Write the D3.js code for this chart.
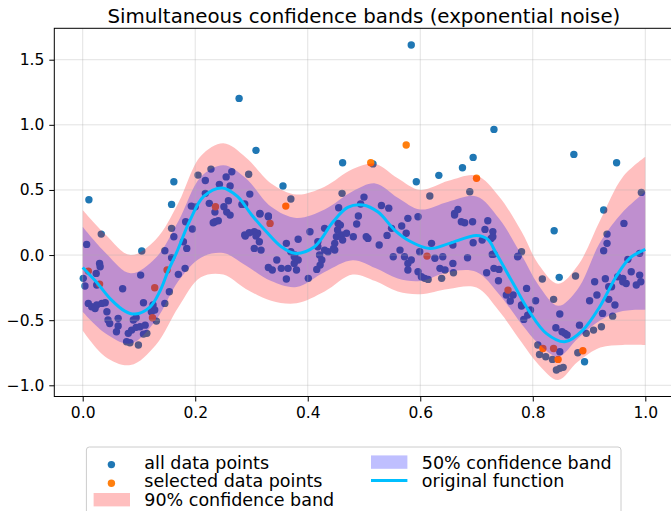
<!DOCTYPE html>
<html>
<head>
<meta charset="utf-8">
<script src="https://cdn.jsdelivr.net/npm/d3@7"></script>
<style>
  body { margin: 0; background: #fff; }
  text { font-family: "DejaVu Sans", sans-serif; fill: #000; }
</style>
</head>
<body>
<svg id="chart" width="671" height="511"></svg>
<script>
// ---- data ----
var curveX = [0, 0.025, 0.05, 0.075, 0.093, 0.12, 0.137, 0.152, 0.167, 0.19, 0.215, 0.248, 0.275, 0.3, 0.329, 0.353, 0.377, 0.412, 0.445, 0.471, 0.498, 0.525, 0.555, 0.58, 0.617, 0.652, 0.7, 0.72, 0.735, 0.765, 0.794, 0.824, 0.857, 0.889, 0.919, 0.948, 0.972, 1.0];
var curveY = [-0.095, -0.21, -0.34, -0.43, -0.453, -0.397, -0.28, -0.12, 0.02, 0.26, 0.45, 0.515, 0.45, 0.31, 0.167, 0.064, 0.013, 0.064, 0.255, 0.366, 0.384, 0.33, 0.19, 0.11, 0.05, 0.09, 0.15, 0.12, 0.013, -0.217, -0.435, -0.601, -0.666, -0.576, -0.397, -0.167, -0.025, 0.044];

var bandX   = [0, 0.04, 0.085, 0.13, 0.17, 0.21, 0.25, 0.29, 0.335, 0.38, 0.43, 0.48, 0.52, 0.56, 0.60, 0.65, 0.70, 0.74, 0.78, 0.81, 0.845, 0.88, 0.92, 0.96, 1.0];
var hi90    = [0.346, 0.16, 0.0, 0.12, 0.40, 0.76, 0.858, 0.75, 0.55, 0.465, 0.525, 0.66, 0.70, 0.59, 0.50, 0.57, 0.61, 0.45, 0.18, -0.07, -0.22, -0.08, 0.27, 0.60, 0.755];
var hi50    = [0.217, 0.02, -0.14, -0.02, 0.26, 0.60, 0.69, 0.59, 0.37, 0.285, 0.35, 0.49, 0.55, 0.44, 0.35, 0.41, 0.45, 0.28, 0.0, -0.23, -0.39, -0.26, 0.10, 0.33, 0.486];
var lo50    = [-0.435, -0.60, -0.68, -0.50, -0.20, -0.02, 0.015, -0.08, -0.20, -0.245, -0.13, -0.04, -0.10, -0.18, -0.20, -0.13, -0.13, -0.30, -0.53, -0.68, -0.78, -0.64, -0.50, -0.43, -0.42];
var lo90    = [-0.58, -0.78, -0.845, -0.69, -0.40, -0.17, -0.15, -0.26, -0.35, -0.37, -0.28, -0.15, -0.20, -0.28, -0.30, -0.26, -0.25, -0.43, -0.67, -0.84, -0.96, -0.82, -0.71, -0.69, -0.69];

var allPoints = [
  [0.011,0.425],[0.278,1.203],[0.308,0.804],[0.162,0.563],[0.158,0.389],[0.584,1.613],[0.462,0.709],[0.516,0.70],
  [0.356,0.53],[0.593,0.563],[0.633,0.612],[0.675,0.67],[0.694,0.75],[0.731,0.965],[0.873,0.773],[0.949,0.709],
  [0.993,0.481],[0.926,0.346],[0.838,0.187],[0.033,0.161],[0.007,0.082],[0.105,0.031],
  [0.205,0.614],[0.228,0.66],[0.218,0.573],[0.265,0.64],[0.255,0.60],[0.295,0.62],[0.243,0.543],[0.262,0.53],
  [0.218,0.474],[0.259,0.417],[0.297,0.468],[0.225,0.397],[0.251,0.371],[0.193,0.376],[0.2,0.37],[0.283,0.389],
  [0.235,0.33],[0.256,0.33],
  [0.37,0.43],[0.461,0.474],[0.5,0.445],[0.617,0.453],[0.455,0.363],[0.531,0.38],[0.544,0.36],[0.494,0.392],
  [0.667,0.35],[0.661,0.32],[0.315,0.32],[0.33,0.3],[0.688,0.486],
  [0.679,0.248],[0.693,0.256],[0.72,0.264],[0.715,0.197],[0.729,0.18],[0.729,0.141],[0.694,0.094],[0.71,0.115],
  [0.962,0.243],[0.932,0.161],[0.932,0.09],[0.926,0.033],[0.684,-0.021],[0.728,0.005],[0.773,-0.013],[0.78,0.025],
  [0.718,-0.136],[0.731,-0.102],[0.74,-0.11],[0.739,-0.197],[0.753,-0.307],[0.765,-0.307],[0.76,-0.353],[0.78,-0.392],
  [0.789,-0.256],[0.805,-0.351],[0.796,-0.422],[0.791,-0.461],[0.784,-0.494],[0.817,-0.184],[0.847,-0.171],[0.876,-0.161],
  [0.837,-0.34],[0.848,-0.453],[0.841,-0.558],[0.857,-0.601],[0.861,-0.614],[0.883,-0.538],[0.895,-0.601],[0.908,-0.576],
  [0.922,-0.551],[0.942,-0.469],[0.924,-0.448],[0.901,-0.351],[0.914,-0.307],[0.91,-0.205],[0.929,-0.182],[0.935,-0.34],
  [0.946,-0.384],[0.94,-0.243],[0.96,-0.179],[0.966,-0.218],[0.975,-0.128],[0.984,-0.23],[0.992,-0.205],[0.99,-0.154],
  [0.969,-0.033],[0.99,0.013],[0.809,-0.691],[0.812,-0.763],[0.823,-0.781],[0.835,-0.801],[0.848,-0.742],[0.842,-0.883],
  [0.848,-0.87],[0.854,-0.862],[0.88,-0.75],[0.892,-0.819],
  [0.726,0.128],[0.731,0.008],[0.774,-0.008],[0.78,-0.384],[0.852,-0.589],[0.935,-0.243],[0.951,-0.167],[0.96,-0.205],
  [0.33,0.294],[0.311,0.167],[0.317,0.038],[0.362,0.09],[0.383,0.121],[0.404,0.179],[0.43,0.205],[0.418,0.064],
  [0.43,0.038],[0.425,-0.038],[0.422,-0.077],[0.416,-0.11],[0.448,0.09],[0.451,0.141],[0.46,0.154],[0.469,0.167],
  [0.448,0.038],[0.481,0.141],[0.487,0.238],[0.49,0.3],[0.454,0.243],[0.507,0.128],[0.527,0.077],[0.541,0.151],
  [0.549,0.205],[0.567,0.223],[0.575,0.167],[0.578,0.282],[0.596,0.294],[0.552,-0.013],[0.564,0.038],[0.572,-0.013],
  [0.578,-0.064],[0.584,-0.038],[0.596,-0.128],[0.602,-0.167],[0.608,-0.179],[0.614,-0.187],[0.599,0.025],[0.62,0.09],
  [0.626,-0.025],[0.64,-0.013],[0.658,-0.064],[0.635,-0.102],[0.644,-0.115],[0.659,-0.136],[0.638,-0.179],[0.658,0.077],
  [0.673,0.256],[0.661,0.307],[0.33,-0.095],[0.337,-0.115],[0.353,-0.102],[0.365,-0.102],[0.38,-0.115],[0.362,-0.184],
  [0.345,-0.038],[0.377,0],[0.383,-0.038],[0.376,-0.064],[0.401,-0.179],
  [0.462,0.115],[0.504,0.141],[0.578,-0.115],
  [0.288,0.392],[0.315,0.315],[0.305,0.179],[0.308,0.146],[0.289,0.146],[0.305,0.051],[0.37,0.025],[0.376,-0.013],
  [0.421,0],[0.418,0.102],[0.436,0.025],[0.446,0.051],[0.453,0.192],[0.458,0.23],
  [0.001,-0.179],[0.004,-0.238],[0.03,-0.064],[0.031,-0.09],[0.024,-0.141],[0.025,-0.23],[0.071,-0.259],[0.103,-0.154],
  [0.01,-0.371],[0.016,-0.397],[0.025,-0.384],[0.034,-0.371],[0.04,-0.366],[0.022,-0.41],[0.043,-0.435],[0.045,-0.499],
  [0.048,-0.525],[0.063,-0.486],[0.063,-0.545],[0.06,-0.589],[0.078,-0.666],[0.084,-0.673],[0.081,-0.601],[0.087,-0.576],
  [0.095,-0.555],[0.09,-0.499],[0.099,-0.691],[0.095,-0.481],[0.102,-0.551],[0.111,-0.538],[0.114,-0.601],[0.108,-0.607],
  [0.108,-0.366],[0.125,-0.384],[0.128,-0.422],[0.122,-0.435],[0.131,-0.507],[0.146,-0.371],[0.154,-0.282],[0.17,-0.148],
  [0.182,-0.102],[0.158,-0.021],[0.146,0.033],[0.158,0.205],[0.162,0.141],[0.179,0.102],[0.185,0.051],[0.183,0.256],
  [0.195,0.2],[0.235,0.256],[0.241,0.264],[0.232,0.248],[0.262,0.307],[0.288,0.154],[0.296,0.171],[0.314,0.102]
];

var selectedPoints = [
  [0.236,0.371],[0.361,0.376],[0.512,0.709],[0.575,0.845],[0.70,0.59],[0.333,0.243],[0.612,-0.008],[0.756,-0.269],
  [0.818,-0.717],[0.837,-0.717],[0.845,-0.801],[0.889,-0.735],[0.01,-0.123],[0.03,-0.223],[0.128,-0.251],[0.124,-0.481],
  [0.15,-0.115]
];

var xTicks = [0, 0.2, 0.4, 0.6, 0.8, 1.0];
var yTicks = [-1.0, -0.5, 0.0, 0.5, 1.0, 1.5];
var titleText = 'Simultaneous confidence bands (exponential noise)';
var legendItems = ['all data points', 'selected data points', '90% confidence band', '50% confidence band', 'original function'];

// ---- layout ----
var plot = { left: 54.3, top: 28.3, right: 673.4, bottom: 396.5 };
var dotR = 3.7;

var svg = d3.select('#chart');

var x = d3.scaleLinear().domain([0, 1]).range([82.7, 645.3]);
var y = d3.scaleLinear().domain([-1, 1.5]).range([385.3, 59.7]);

svg.append('defs').append('clipPath').attr('id', 'clip')
    .append('rect')
    .attr('x', plot.left).attr('y', plot.top)
    .attr('width', plot.right - plot.left).attr('height', plot.bottom - plot.top);

var g = svg.append('g').attr('clip-path', 'url(#clip)');

// scatter (drawn first, bands go over it)
g.selectAll('circle.all').data(allPoints).enter().append('circle')
    .attr('class', 'all')
    .attr('cx', function (d) { return x(d[0]); })
    .attr('cy', function (d) { return y(d[1]); })
    .attr('r', dotR)
    .attr('fill', '#1f77b4');

g.selectAll('circle.sel').data(selectedPoints).enter().append('circle')
    .attr('class', 'sel')
    .attr('cx', function (d) { return x(d[0]); })
    .attr('cy', function (d) { return y(d[1]); })
    .attr('r', dotR)
    .attr('fill', '#ff7f0e');

// bands
function band(lo, hi) {
    return d3.area()
        .x(function (d, i) { return x(bandX[i]); })
        .y0(function (d, i) { return y(lo[i]); })
        .y1(function (d, i) { return y(hi[i]); })
        .curve(d3.curveCatmullRom.alpha(0.5))(bandX);
}

g.append('path').attr('d', band(lo90, hi90)).attr('fill', 'red').attr('fill-opacity', 0.25);
g.append('path').attr('d', band(lo50, hi50)).attr('fill', 'blue').attr('fill-opacity', 0.25);

// grid
g.selectAll('line.gx').data(xTicks).enter().append('line')
    .attr('x1', function (d) { return x(d); }).attr('x2', function (d) { return x(d); })
    .attr('y1', plot.top).attr('y2', plot.bottom)
    .attr('stroke', '#b0b0b0').attr('stroke-opacity', 0.35).attr('stroke-width', 1);
g.selectAll('line.gy').data(yTicks).enter().append('line')
    .attr('y1', function (d) { return y(d); }).attr('y2', function (d) { return y(d); })
    .attr('x1', plot.left).attr('x2', plot.right)
    .attr('stroke', '#b0b0b0').attr('stroke-opacity', 0.35).attr('stroke-width', 1);

// original function
var line = d3.line()
    .x(function (d, i) { return x(curveX[i]); })
    .y(function (d, i) { return y(curveY[i]); })
    .curve(d3.curveCatmullRom.alpha(0.5));
g.append('path').attr('d', line(curveX))
    .attr('fill', 'none').attr('stroke', '#00bfff').attr('stroke-width', 3);

// spines
svg.append('rect')
    .attr('x', plot.left).attr('y', plot.top)
    .attr('width', plot.right - plot.left).attr('height', plot.bottom - plot.top)
    .attr('fill', 'none').attr('stroke', '#000').attr('stroke-width', 1);

// axes
var fmt = function (d) { return d3.format('.1f')(d).replace('-', '\u2212'); };

var xAxis = svg.append('g').attr('transform', 'translate(0,' + plot.bottom + ')')
    .call(d3.axisBottom(x).tickValues(xTicks).tickFormat(fmt).tickSize(5).tickPadding(5));
var yAxis = svg.append('g').attr('transform', 'translate(' + plot.left + ',0)')
    .call(d3.axisLeft(y).tickValues(yTicks).tickFormat(fmt).tickSize(5).tickPadding(5));
[xAxis, yAxis].forEach(function (a) {
    a.select('.domain').remove();
    a.selectAll('text').style('font-size', '15.5px').attr('fill', '#000');
    a.selectAll('line').attr('stroke', '#000');
});

// title
svg.append('text')
    .attr('x', 363.9).attr('y', 23)
    .attr('text-anchor', 'middle')
    .style('font-size', '19.8px')
    .text(titleText);

// legend
var lg = svg.append('g');
lg.append('rect')
    .attr('x', 86.4).attr('y', 447).attr('width', 534.6).attr('height', 80)
    .attr('rx', 3).attr('fill', '#fff').attr('fill-opacity', 0.8)
    .attr('stroke', '#cccccc').attr('stroke-width', 1);

var col1 = 144.3, col2 = 421.8, rows = [468.5, 487.3, 505.6];
lg.append('circle').attr('cx', 111.4).attr('cy', 464.6).attr('r', dotR).attr('fill', '#1f77b4');
lg.append('circle').attr('cx', 111.4).attr('cy', 483.2).attr('r', dotR).attr('fill', '#ff7f0e');
lg.append('rect').attr('x', 93.6).attr('y', 493).attr('width', 36.4).attr('height', 13.4)
    .attr('fill', 'red').attr('fill-opacity', 0.25);
lg.append('rect').attr('x', 371).attr('y', 455.4).attr('width', 36.4).attr('height', 13.4)
    .attr('fill', 'blue').attr('fill-opacity', 0.25);
lg.append('line').attr('x1', 371).attr('x2', 407.4).attr('y1', 480.6).attr('y2', 480.6)
    .attr('stroke', '#00bfff').attr('stroke-width', 3);

var pos = [[col1, rows[0]], [col1, rows[1]], [col1, rows[2]], [col2, rows[0]], [col2, rows[1]]];
lg.selectAll('text.lt').data(legendItems).enter().append('text')
    .attr('class', 'lt')
    .attr('x', function (d, i) { return pos[i][0]; })
    .attr('y', function (d, i) { return pos[i][1]; })
    .style('font-size', '17.5px')
    .text(function (d) { return d; });
</script>
</body>
</html>
